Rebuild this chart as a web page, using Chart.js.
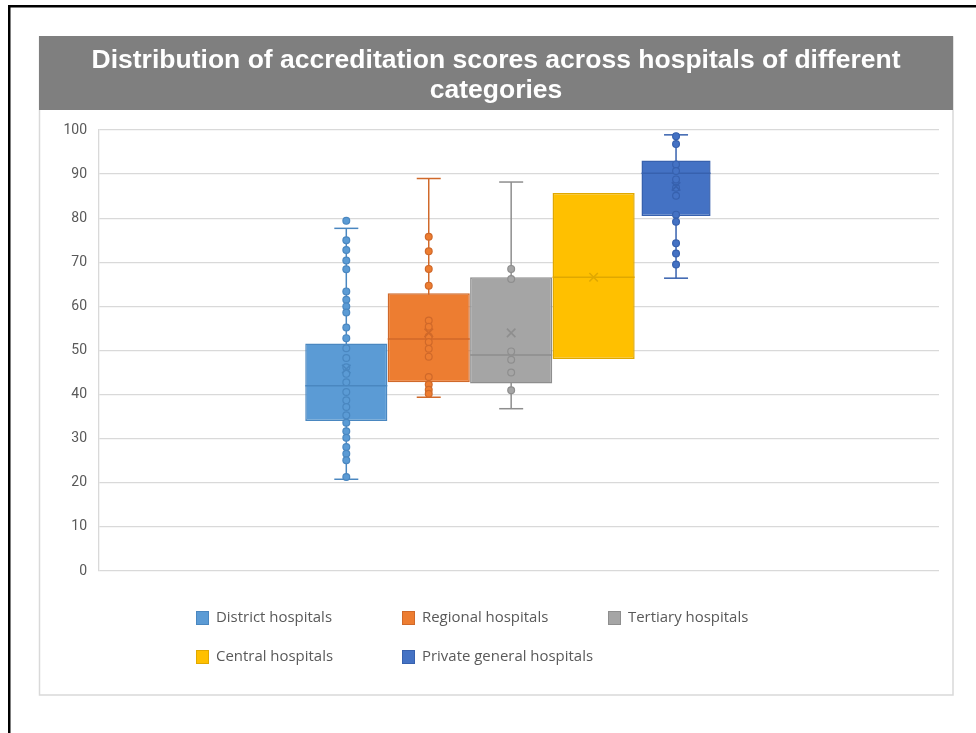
<!DOCTYPE html>
<html>
<head>
<meta charset="utf-8">
<script src="https://cdn.jsdelivr.net/npm/chart.js@4.4.1/dist/chart.umd.min.js"></script>
<style>
  html, body { margin: 0; padding: 0; background: #ffffff; }
  #wrap { position: relative; width: 976px; height: 733px; }
</style>
</head>
<body>
<div id="wrap"><canvas id="boxChart" width="976" height="733"></canvas></div>
<script>
// ---- data ----
const titleLines = ['Distribution of accreditation scores across hospitals of different', 'categories'];
const categories = ['District hospitals', 'Regional hospitals', 'Tertiary hospitals', 'Central hospitals', 'Private general hospitals'];

const mins    = [20.8, 39.4, 36.8, 48.1, 66.4];
const q1s     = [34.0, 42.8, 42.5, 48.1, 80.5];
const medians = [42.0, 52.6, 49.0, 66.6, 90.2];
const q3s     = [51.6, 63.0, 66.6, 85.7, 93.1];
const maxs    = [77.7, 89.0, 88.2, 85.7, 98.9];
const means   = [45.8, 54.0, 54.0, 66.6, 87.2];

const districtPoints = [79.4, 75.0, 72.8, 70.4, 68.4, 63.4, 61.5, 60.0, 58.6, 55.2, 52.8, 50.5, 48.3, 46.2, 44.7,
                        42.8, 40.6, 38.7, 37.2, 35.3, 33.6, 31.7, 30.2, 28.1, 26.6, 25.1, 21.3];
const regionalPoints = [75.8, 72.5, 68.5, 64.7, 56.8, 55.4, 53.2, 51.9, 50.4, 48.6, 44.0, 42.3, 41.1, 40.2];
const tertiaryPoints = [68.5, 66.2, 49.8, 47.9, 45.0, 41.0];
const centralPoints  = [];
const privatePoints  = [98.6, 96.8, 92.2, 90.7, 88.8, 86.9, 85.1, 80.8, 79.2, 74.3, 72.0, 69.5];
const allPoints = [districtPoints, regionalPoints, tertiaryPoints, centralPoints, privatePoints];

const yMin = 0, yMax = 100, yStep = 10;

// ---- styling ----
const fillColors = ['#5B9BD5', '#ED7D31', '#A5A5A5', '#FFC000', '#4472C4'];
const lineColors = ['#4A87C0', '#D0692A', '#8E8E8E', '#E0A800', '#3761AE'];
const boxWidths  = [82, 82, 82, 82, 69];
const hasWhiskers = [true, true, true, false, true];

const datasets = [];
categories.forEach((name, i) => {
    const x = i + 1;
    // whisker line + caps (behind box)
    datasets.push({
        type: 'line',
        label: name + ' whisker',
        data: hasWhiskers[i] ? [{ x: x, y: mins[i] }, { x: x, y: maxs[i] }] : [],
        borderColor: lineColors[i],
        borderWidth: 1.5,
        pointStyle: 'line',
        pointRadius: 12,
        pointBorderColor: lineColors[i],
        pointBorderWidth: 1.5,
        fill: false,
        order: 5
    });
    // box
    datasets.push({
        type: 'bar',
        label: name,
        data: [{ x: x, y: [q1s[i], q3s[i]] }],
        backgroundColor: fillColors[i],
        borderColor: lineColors[i],
        borderWidth: 1.5,
        borderSkipped: false,
        grouped: false,
        categoryPercentage: 1,
        barPercentage: boxWidths[i] / 82.3,
        order: 4
    });
    // median
    datasets.push({
        type: 'line',
        label: name + ' median',
        data: [{ x: x, y: medians[i] }],
        showLine: false,
        pointStyle: 'line',
        pointRadius: boxWidths[i] / 2,
        pointBorderColor: lineColors[i],
        pointBorderWidth: 1.5,
        order: 3
    });
    // data points
    datasets.push({
        type: 'line',
        label: name + ' points',
        data: allPoints[i].map(v => ({ x: x, y: v })),
        showLine: false,
        pointStyle: 'circle',
        pointRadius: 3.4,
        pointBackgroundColor: fillColors[i],
        pointBorderColor: lineColors[i],
        pointBorderWidth: 1.2,
        order: 2
    });
    // mean
    datasets.push({
        type: 'line',
        label: name + ' mean',
        data: [{ x: x, y: means[i] }],
        showLine: false,
        pointStyle: 'crossRot',
        pointRadius: 6,
        pointBorderColor: lineColors[i],
        pointBorderWidth: 1.6,
        order: 1
    });
});

// frame, title banner and legend
const decor = {
    id: 'decor',
    beforeDraw(chart) {
        const ctx = chart.ctx;
        ctx.save();
        ctx.fillStyle = '#000000';
        ctx.fillRect(8, 5, 968, 2.5);
        ctx.fillRect(8, 5, 2.5, 728);
        ctx.strokeStyle = '#d9d9d9';
        ctx.lineWidth = 1.5;
        ctx.strokeRect(39.5, 37, 913.5, 658);
        ctx.fillStyle = '#7F7F7F';
        ctx.fillRect(39, 36, 914, 74);
        ctx.restore();
    },
    afterDraw(chart) {
        const ctx = chart.ctx;
        ctx.save();
        // title
        ctx.fillStyle = '#ffffff';
        ctx.font = 'bold 25px "Liberation Sans", Arial, sans-serif';
        ctx.textAlign = 'center';
        ctx.textBaseline = 'alphabetic';
        const tScale = 809 / ctx.measureText(titleLines[0]).width;
        titleLines.forEach((line, k) => {
            ctx.save();
            ctx.translate(496, 68 + k * 30);
            ctx.scale(tScale, 1);
            ctx.fillText(line, 0, 0);
            ctx.restore();
        });
        // legend (3 columns)
        ctx.font = '15px "Open Sans", sans-serif';
        ctx.textAlign = 'left';
        ctx.textBaseline = 'middle';
        const lScale = 116 / ctx.measureText(categories[0]).width;
        const colX = [196, 402, 608];
        const rowY = [618, 657];
        categories.forEach((name, i) => {
            const cx = colX[i % 3], cy = rowY[Math.floor(i / 3)];
            ctx.fillStyle = fillColors[i];
            ctx.fillRect(cx, cy - 7, 13, 14);
            ctx.strokeStyle = lineColors[i];
            ctx.lineWidth = 1;
            ctx.strokeRect(cx + 0.5, cy - 6.5, 12, 13);
            ctx.save();
            ctx.translate(cx + 20, cy);
            ctx.scale(lScale, 1);
            ctx.fillStyle = '#595959';
            ctx.fillText(name, 0, 0);
            ctx.restore();
        });
        ctx.restore();
    }
};

new Chart(document.getElementById('boxChart'), {
    type: 'bar',
    data: { datasets: datasets },
    options: {
        responsive: false,
        animation: false,
        events: [],
        layout: { autoPadding: false, padding: { left: 39, top: 130, right: 37, bottom: 162 } },
        plugins: { legend: { display: false }, title: { display: false }, tooltip: { enabled: false } },
        scales: {
            x: { type: 'linear', min: -2, max: 8.19, offset: false, display: false },
            y: {
                min: yMin, max: yMax,
                ticks: { stepSize: yStep, color: '#595959', padding: 12, font: { family: 'Roboto, "Open Sans", sans-serif', size: 14 } },
                grid: { color: '#d9d9d9', lineWidth: 1.3, drawTicks: false },
                border: { display: true, color: '#d9d9d9', width: 1.3 },
                afterFit(scale) { scale.width = 60; }
            }
        }
    },
    plugins: [decor]
});
</script>
</body>
</html>
